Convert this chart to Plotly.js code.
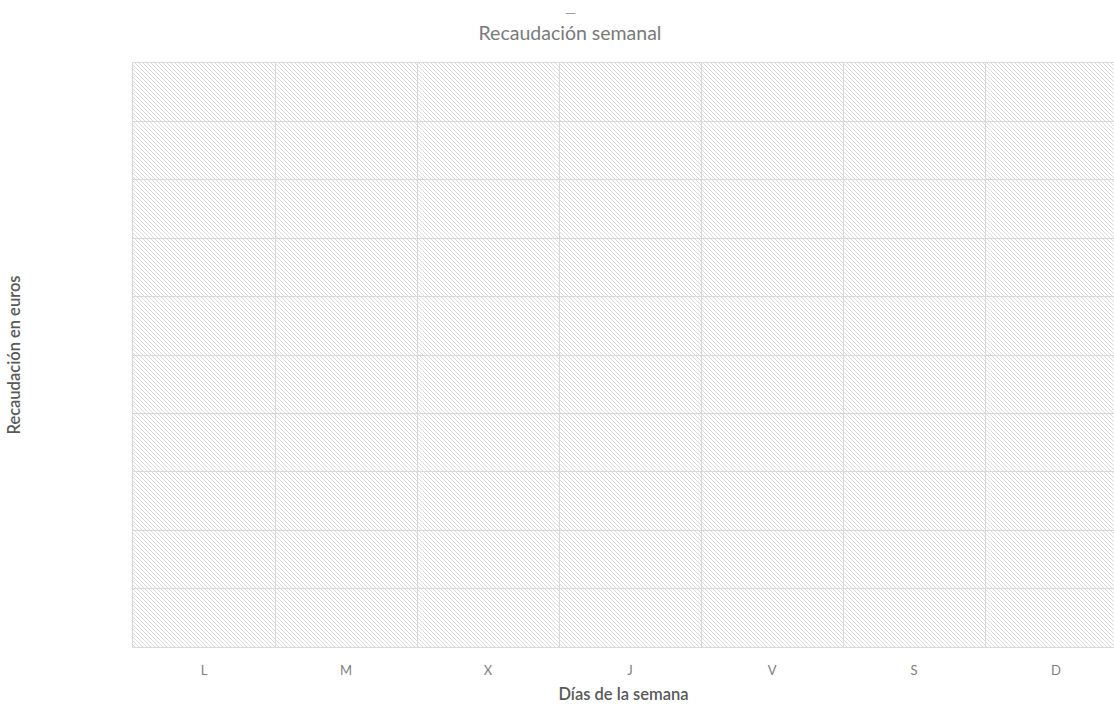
<!DOCTYPE html>
<html>
<head>
<meta charset="utf-8">
<script src="https://cdn.plot.ly/plotly-3.0.1.min.js"></script>
<style>
  html, body { margin: 0; padding: 0; background: #ffffff; overflow: hidden; }
  #chart { width: 1114px; height: 704px; }
</style>
</head>
<body>
<div id="chart"></div>
<script>
// Data (the reference chart shows no values: an empty chart)
const dias = ['L', 'M', 'X', 'J', 'V', 'S', 'D'];
const recaudacion = [null, null, null, null, null, null, null];
const tituloGrafico = 'Recaudación semanal';
const tituloX = 'Días de la semana';
const tituloY = 'Recaudación en euros';

const FONT = 'Lato, "Open Sans", sans-serif';

const trace = {
  type: 'bar',
  x: dias,
  y: recaudacion,
  marker: { color: '#4472c4' },
  hoverinfo: 'skip',
  showlegend: false
};

const layout = {
  width: 1114,
  height: 704,
  margin: { l: 133, r: 0, t: 63, b: 57 },
  paper_bgcolor: '#ffffff',
  plot_bgcolor: 'rgba(0,0,0,0)',
  font: { family: FONT, color: '#7f7f7f' },
  title: {
    text: tituloGrafico,
    font: { size: 19.5, color: '#7a7a7a', family: FONT },
    x: 570 / 1114, xref: 'container', xanchor: 'center',
    y: 1 - 33 / 704, yref: 'container', yanchor: 'middle'
  },
  xaxis: {
    type: 'category',
    range: [-0.5, 6.408],
    tickson: 'boundaries',
    showgrid: true,
    gridcolor: '#d9d9d9',
    gridwidth: 1,
    showline: true,
    mirror: true,
    linecolor: '#d9d9d9',
    linewidth: 1,
    ticks: '',
    ticklabelstandoff: 11,
    tickfont: { size: 13, color: '#808080', family: FONT },
    zeroline: false,
    fixedrange: true,
    title: {
      text: tituloX,
      font: { size: 16.5, color: '#595959', family: FONT, weight: 600 },
      standoff: 12
    }
  },
  yaxis: {
    range: [0, 10],
    dtick: 1,
    tick0: 0,
    showticklabels: false,
    ticks: '',
    showgrid: true,
    gridcolor: '#d9d9d9',
    gridwidth: 1,
    zeroline: false,
    showline: true,
    linecolor: '#d9d9d9',
    linewidth: 1,
    fixedrange: true,
    title: {
      text: tituloY,
      font: { size: 16.5, color: '#595959', family: FONT, weight: 600 },
      standoff: 107
    }
  },
  annotations: [{
    text: '—',
    xref: 'paper', yref: 'paper',
    x: (570 - 133) / 981, y: 1 + (63 - 12.5) / 584,
    xanchor: 'center', yanchor: 'middle',
    showarrow: false,
    font: { size: 14, color: '#a0a0a0' }
  }],
  bargap: 0.2
};

Plotly.newPlot('chart', [trace], layout, { displayModeBar: false, staticPlot: true }).then(function (gd) {
  // Diagonal hatch fill for the plot area background
  const NS = 'http://www.w3.org/2000/svg';
  const svg = gd.querySelector('svg.main-svg');
  let defs = svg.querySelector('defs');
  if (!defs) { defs = document.createElementNS(NS, 'defs'); svg.insertBefore(defs, svg.firstChild); }
  const pat = document.createElementNS(NS, 'pattern');
  pat.setAttribute('id', 'hatchBg');
  pat.setAttribute('patternUnits', 'userSpaceOnUse');
  pat.setAttribute('width', '4');
  pat.setAttribute('height', '4');
  const bgr = document.createElementNS(NS, 'rect');
  bgr.setAttribute('width', '4'); bgr.setAttribute('height', '4'); bgr.setAttribute('fill', '#ffffff');
  pat.appendChild(bgr);
  const p = document.createElementNS(NS, 'path');
  p.setAttribute('d', 'M-1,-1 L5,5 M-1,3 L1,5 M3,-1 L5,1');
  p.setAttribute('stroke', '#dadada');
  p.setAttribute('stroke-width', '1');
  pat.appendChild(p);
  defs.appendChild(pat);

  const sz = gd._fullLayout._size;
  const rect = document.createElementNS(NS, 'rect');
  rect.setAttribute('x', sz.l);
  rect.setAttribute('y', sz.t);
  rect.setAttribute('width', sz.w);
  rect.setAttribute('height', sz.h);
  rect.setAttribute('fill', 'url(#hatchBg)');
  const bglayer = svg.querySelector('.bglayer');
  if (bglayer) {
    bglayer.appendChild(rect);
  } else {
    const cart = svg.querySelector('.cartesianlayer');
    cart.parentNode.insertBefore(rect, cart);
  }
});
</script>
</body>
</html>
